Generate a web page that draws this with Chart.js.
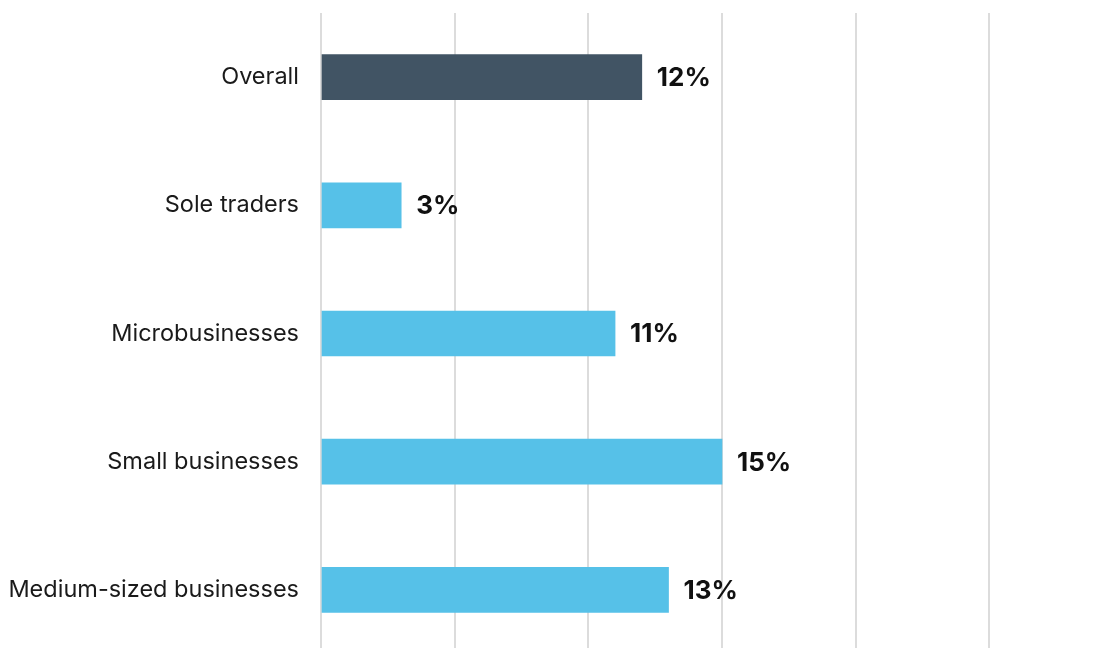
<!DOCTYPE html>
<html>
<head>
<meta charset="utf-8">
<script src="https://cdn.jsdelivr.net/npm/chart.js@4/dist/chart.umd.min.js"></script>
<style>
  html, body { margin: 0; padding: 0; overflow: hidden; background: #fff; }
  #wrap { width: 1130px; height: 654px; }
</style>
</head>
<body>
<div id="wrap"><canvas id="myChart"></canvas></div>
<script>
(() => {
  "use strict";

  const categories = [
    "Overall",
    "Sole traders",
    "Microbusinesses",
    "Small businesses",
    "Medium-sized businesses",
  ];
  const shares = [12, 3, 11, 15, 13];
  const barColors = ["#415464", "#56c1e8", "#56c1e8", "#56c1e8", "#56c1e8"];

  // value labels at the end of each bar
  const endLabels = {
    id: "endLabels",
    afterDatasetsDraw(chart) {
      const { ctx } = chart;
      const meta = chart.getDatasetMeta(0);
      ctx.save();
      ctx.font = "bold 26px Inter, 'Noto Sans', sans-serif";
      ctx.fillStyle = "#111";
      ctx.textAlign = "left";
      ctx.textBaseline = "middle";
      meta.data.forEach((bar, i) => {
        ctx.fillText(shares[i] + "%", bar.x + 15, bar.y + 1);
      });
      ctx.restore();
    },
  };

  const chartEl = document.getElementById("myChart");
  new Chart(chartEl, {
    type: "bar",
    data: {
      labels: categories,
      datasets: [
        {
          data: shares,
          backgroundColor: barColors,
          barThickness: 45,
        },
      ],
    },
    options: {
      indexAxis: "y",
      responsive: true,
      maintainAspectRatio: false,
      animation: false,
      layout: { padding: { top: 13, right: 7, bottom: 0, left: 0 } },
      scales: {
        x: {
          min: 0,
          max: 30,
          ticks: { display: false, stepSize: 5 },
          grid: { color: "#dcdcdc", lineWidth: 2, drawTicks: false },
          border: { display: false },
          afterFit(scale) {
            scale.height = 0;
            scale.paddingLeft = 0;
            scale.paddingRight = 0;
          },
        },
        y: {
          grid: { display: false, drawTicks: false },
          border: { display: false },
          ticks: {
            color: "#1a1a1a",
            padding: 22,
            font: { family: "Inter, 'Noto Sans', sans-serif", size: 23.5 },
          },
          afterFit(scale) {
            scale.width = 321;
            scale.paddingTop = 0;
            scale.paddingBottom = 0;
          },
        },
      },
      plugins: {
        legend: { display: false },
        tooltip: { enabled: false },
      },
    },
    plugins: [endLabels],
  });
})();
</script>
</body>
</html>
